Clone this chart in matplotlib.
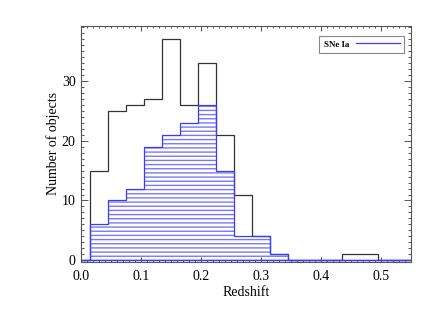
import numpy as np
import matplotlib
matplotlib.use('Agg')
import matplotlib.pyplot as plt
from matplotlib.lines import Line2D
from matplotlib.ticker import MultipleLocator

plt.rcParams['font.family'] = ['Liberation Serif', 'DejaVu Serif']

# bin edges in redshift
edges = [-0.015, 0.015, 0.045, 0.075, 0.105, 0.135, 0.165, 0.195, 0.225, 0.255,
         0.285, 0.315, 0.345, 0.375, 0.405, 0.435, 0.465, 0.495, 0.525, 0.555]
# all objects
all_counts = [0, 15, 25, 26, 27, 37, 26, 33, 21, 11, 4, 1, 0, 0, 0, 1, 1, 0, 0]
# SNe Ia
snia_counts = [0, 6, 10, 12, 19, 21, 23, 26, 15, 4, 4, 1, 0, 0, 0, 0, 0, 0, 0]

fig = plt.figure(figsize=(4.36, 3.12), dpi=100)
ax = fig.add_axes([0.186, 0.160, 0.757, 0.757])

blue = '#3a3aff'
ax.stairs(all_counts, edges, color='#333333', linewidth=0.9)
ax.stairs(snia_counts, edges, fill=True, facecolor='none', edgecolor='#7777ff',
          hatch='----', linewidth=0)
ax.stairs(snia_counts, edges, color=blue, linewidth=0.9)
ax.axhline(0, color=blue, linewidth=1.0)

ax.set_xlim(0.0, 0.55)
ax.set_ylim(-0.3, 39.2)
ax.xaxis.set_major_locator(MultipleLocator(0.1))
ax.xaxis.set_minor_locator(MultipleLocator(0.01))
ax.yaxis.set_major_locator(MultipleLocator(10))
ax.yaxis.set_minor_locator(MultipleLocator(1))
ax.xaxis.set_major_formatter(plt.FormatStrFormatter('%.1f'))

ax.tick_params(axis='both', which='both', direction='in', top=True, right=True,
               color='#555555', width=0.7, labelsize=10)
ax.tick_params(axis='x', which='major', length=3.5, pad=6)
ax.tick_params(axis='x', which='minor', length=1.7)
ax.tick_params(axis='y', which='major', length=5, pad=4)
ax.tick_params(axis='y', which='minor', length=2.5)
for s in ax.spines.values():
    s.set_color('#555555')
    s.set_linewidth(0.8)

ax.set_xlabel('Redshift', fontsize=10, labelpad=2)
ax.set_ylabel('Number of objects', fontsize=10, labelpad=1)

h = [Line2D([0], [0], color=blue, linewidth=0.9)]
leg = ax.legend(h, ['SNe Ia'], loc='upper right', markerfirst=False, fontsize=6.5,
                fancybox=False, edgecolor='#888888', framealpha=1,
                handlelength=4.8, borderpad=0.5, borderaxespad=0,
                bbox_to_anchor=(0.979, 0.958))
leg.get_frame().set_linewidth(0.8)
for t in leg.get_texts():
    t.set_fontweight('bold')

fig.savefig('out.png', dpi=100)
